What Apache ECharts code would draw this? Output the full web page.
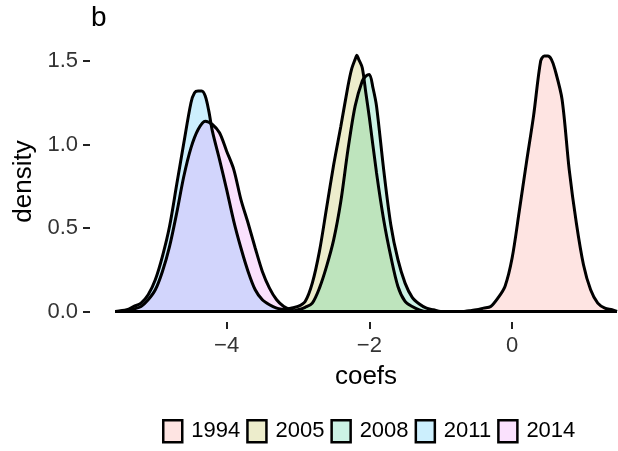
<!DOCTYPE html>
<html>
<head>
<meta charset="utf-8">
<script src="https://cdn.jsdelivr.net/npm/echarts@6/dist/echarts.min.js"></script>
<style>
  html, body { margin: 0; padding: 0; background: #fff; }
  #chart { width: 618px; height: 451px; }
</style>
</head>
<body>
<div id="chart"></div>
<script>
// groups and their fill colours (ggplot hue palette, alpha 0.2)
const years = ['1994', '2005', '2008', '2011', '2014'];
const fills = ['rgba(248,118,109,0.2)', 'rgba(163,165,0,0.2)', 'rgba(0,191,125,0.2)', 'rgba(0,176,246,0.2)', 'rgba(231,107,243,0.2)'];

// density curves: coef values and density values
const x1994 = [-5.56, -0.7, -0.6, -0.5, -0.4, -0.3, -0.2, -0.1, 0.0, 0.1, 0.2, 0.3, 0.4, 0.45, 0.5, 0.55, 0.6, 0.7, 0.8, 0.9, 1.0, 1.1, 1.2, 1.3, 1.4, 1.47];
const d1994 = [0, 0, 0.005, 0.01, 0.02, 0.03, 0.08, 0.15, 0.32, 0.60, 0.89, 1.17, 1.50, 1.53, 1.53, 1.51, 1.45, 1.27, 0.85, 0.53, 0.28, 0.13, 0.05, 0.02, 0.01, 0];

const x2005 = [-5.56, -3.3, -3.2, -3.1, -3.0, -2.9, -2.8, -2.7, -2.6, -2.5, -2.4, -2.3, -2.25, -2.2, -2.175, -2.15, -2.1, -2.05, -2.0, -1.9, -1.8, -1.7, -1.6, -1.5, -1.4, -1.3, -1.2, 1.47];
const d2005 = [0, 0, 0.01, 0.02, 0.03, 0.06, 0.17, 0.36, 0.62, 0.88, 1.11, 1.35, 1.45, 1.51, 1.535, 1.51, 1.46, 1.31, 1.16, 0.83, 0.55, 0.33, 0.15, 0.06, 0.03, 0.01, 0, 0];

const x2008 = [-5.56, -3.1, -3.0, -2.9, -2.8, -2.7, -2.6, -2.5, -2.4, -2.3, -2.2, -2.1, -2.05, -2.0, -1.95, -1.9, -1.8, -1.7, -1.6, -1.5, -1.4, -1.3, -1.2, -1.1, -1.0, 1.47];
const d2008 = [0, 0, 0.01, 0.025, 0.05, 0.14, 0.27, 0.43, 0.66, 0.97, 1.23, 1.38, 1.41, 1.42, 1.34, 1.23, 0.85, 0.52, 0.31, 0.17, 0.085, 0.045, 0.02, 0.01, 0, 0];

const x2011 = [-5.56, -5.4, -5.3, -5.2, -5.1, -5.0, -4.9, -4.8, -4.7, -4.6, -4.5, -4.45, -4.4, -4.35, -4.3, -4.25, -4.2, -4.1, -4.0, -3.9, -3.8, -3.7, -3.6, -3.5, -3.4, -3.3, -3.2, -3.1, 1.47];
const d2011 = [0, 0.01, 0.03, 0.05, 0.10, 0.19, 0.33, 0.51, 0.76, 1.01, 1.25, 1.31, 1.32, 1.32, 1.29, 1.20, 1.08, 0.91, 0.73, 0.54, 0.38, 0.24, 0.13, 0.07, 0.04, 0.02, 0.01, 0, 0];

const x2014 = [-5.56, -5.4, -5.3, -5.2, -5.1, -5.0, -4.9, -4.8, -4.7, -4.6, -4.5, -4.4, -4.3, -4.2, -4.1, -4.0, -3.9, -3.8, -3.7, -3.6, -3.5, -3.4, -3.3, -3.2, -3.1, -3.0, 1.47];
const d2014 = [0, 0.005, 0.015, 0.03, 0.07, 0.13, 0.24, 0.39, 0.59, 0.81, 0.98, 1.09, 1.14, 1.12, 1.07, 0.96, 0.85, 0.67, 0.53, 0.38, 0.24, 0.14, 0.07, 0.03, 0.01, 0, 0];

const xs = [x1994, x2005, x2008, x2011, x2014];
const ds = [d1994, d2005, d2008, d2011, d2014];

// axis ticks
const xTicks = [-4, -2, 0];
const yTicks = [0, 0.5, 1, 1.5];

const font = "'Liberation Sans', Arial, sans-serif";

const chart = echarts.init(document.getElementById('chart'));
chart.setOption({
  animation: false,
  textStyle: { fontFamily: font },
  graphic: [{
    type: 'text', left: 91, top: 4,
    style: { text: 'b', font: '28px ' + font, fill: '#000' }
  }],
  // panel runs past the right edge: the reference is cropped there
  grid: { left: 90, top: 41, width: 552, height: 281, outerBoundsMode: 'none' },
  xAxis: {
    type: 'value',
    min: -5.915, max: 1.82,
    name: 'coefs', nameLocation: 'middle', nameGap: 42,
    nameTextStyle: { fontSize: 26, color: '#000', fontFamily: font },
    axisLine: { show: false, onZero: false },
    axisTick: { show: true, customValues: xTicks, length: 7, lineStyle: { color: '#222', width: 2 } },
    axisLabel: {
      customValues: xTicks, fontSize: 22, margin: 13, color: '#333', fontFamily: font,
      formatter: v => String(v).replace('-', '\u2212')
    },
    splitLine: { show: false }
  },
  yAxis: {
    type: 'value',
    min: -0.063, max: 1.62,
    name: 'density', nameLocation: 'middle', nameGap: 53,
    nameTextStyle: { fontSize: 26, color: '#000', fontFamily: font },
    axisLine: { show: false, onZero: false },
    axisTick: { show: true, customValues: yTicks, length: 7, lineStyle: { color: '#222', width: 2 } },
    axisLabel: {
      customValues: yTicks, fontSize: 22, margin: 12, color: '#333', fontFamily: font,
      formatter: v => v.toFixed(1)
    },
    splitLine: { show: false }
  },
  legend: {
    left: 157, top: 414,
    icon: 'rect', itemWidth: 19, itemHeight: 22, itemGap: 6,
    textStyle: { fontSize: 22, color: '#000', fontFamily: font, padding: [0, 0, 0, 4] },
    data: years.map((y, i) => ({
      name: y,
      itemStyle: { color: fills[i], borderColor: '#000', borderWidth: 2.5 }
    }))
  },
  series: years.map((y, i) => ({
    name: y,
    type: 'line',
    data: xs[i].map((x, j) => [x, ds[i][j]]),
    smooth: 0.3,
    showSymbol: false,
    symbol: 'none',
    itemStyle: { color: fills[i] },
    lineStyle: { color: '#000', width: 3 },
    areaStyle: { color: fills[i], opacity: 1 }
  }))
});
</script>
</body>
</html>
